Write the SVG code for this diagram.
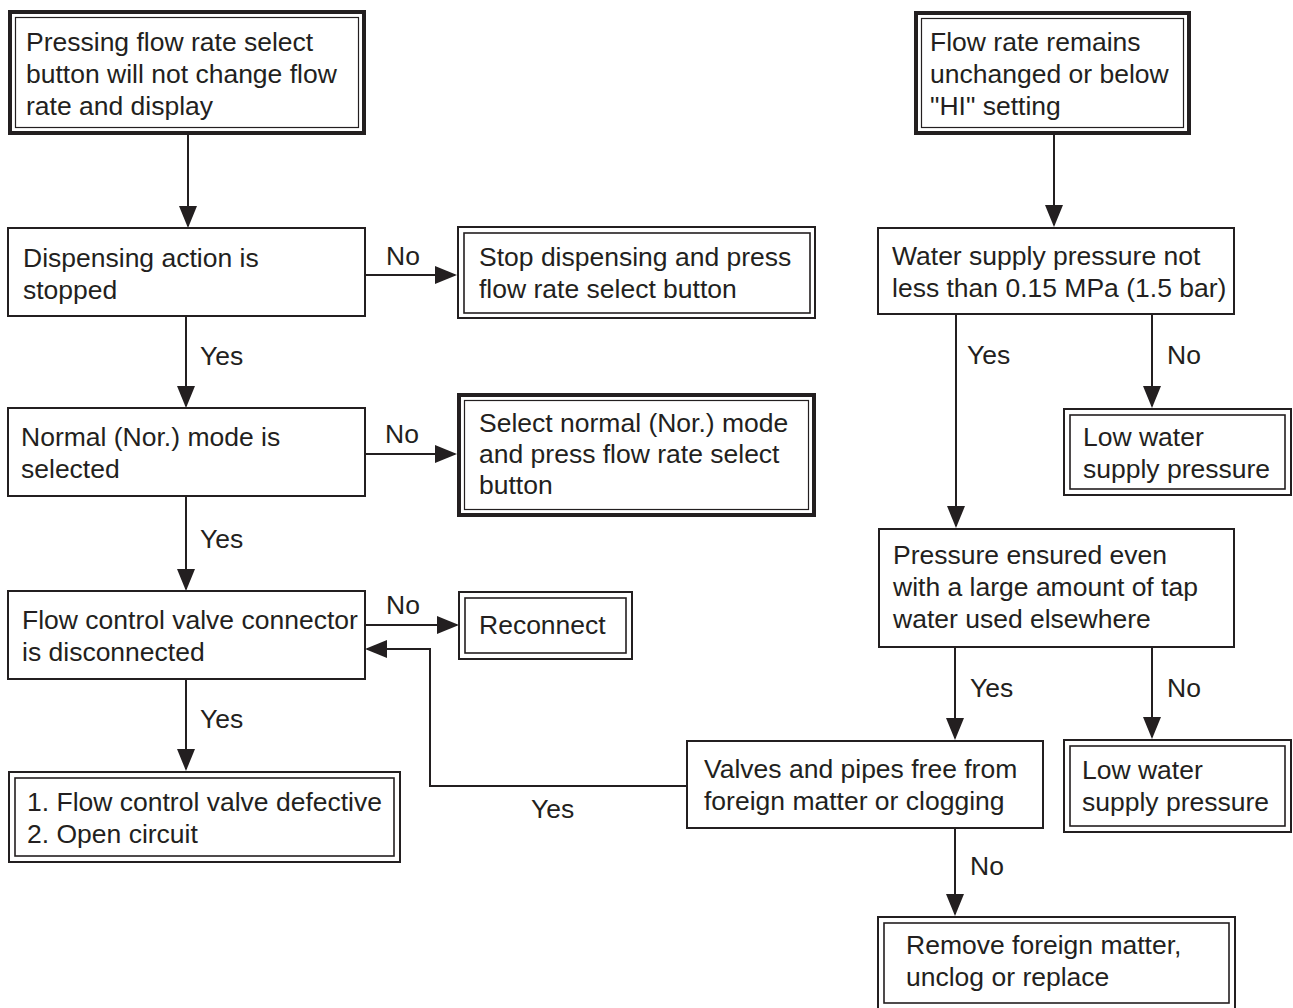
<svg xmlns="http://www.w3.org/2000/svg" width="1293" height="1008" viewBox="0 0 1293 1008">
<style>
text{font-family:"Liberation Sans",Arial,sans-serif;font-size:26.5px;fill:#231f20}
.box{fill:#fff;stroke:#231f20;stroke-width:2}
.thick{fill:#fff;stroke:#231f20;stroke-width:4}
.inner{fill:none;stroke:#231f20;stroke-width:1.2}
.inner2{fill:none;stroke:#231f20;stroke-width:1.6}
.conn{fill:none;stroke:#231f20;stroke-width:2}
</style>
<defs>
<marker id="ah" markerUnits="userSpaceOnUse" markerWidth="22" markerHeight="18" refX="20" refY="9" orient="auto">
<path d="M0,0 L22,9 L0,18 Z" fill="#231f20"/>
</marker>
</defs>
<rect width="1293" height="1008" fill="#fff"/>

<g id="connectors">
<line class="conn" x1="188" y1="135" x2="188" y2="226" marker-end="url(#ah)"/>
<line class="conn" x1="366" y1="275" x2="455" y2="275" marker-end="url(#ah)"/>
<line class="conn" x1="186" y1="316" x2="186" y2="406" marker-end="url(#ah)"/>
<line class="conn" x1="365" y1="454" x2="455" y2="454" marker-end="url(#ah)"/>
<line class="conn" x1="186" y1="496" x2="186" y2="589" marker-end="url(#ah)"/>
<line class="conn" x1="365" y1="625" x2="457" y2="625" marker-end="url(#ah)"/>
<line class="conn" x1="186" y1="679" x2="186" y2="769" marker-end="url(#ah)"/>
<polyline class="conn" points="686,786 430,786 430,649 367,649" marker-end="url(#ah)"/>
<line class="conn" x1="1054" y1="135" x2="1054" y2="225" marker-end="url(#ah)"/>
<line class="conn" x1="956" y1="314" x2="956" y2="526" marker-end="url(#ah)"/>
<line class="conn" x1="1152" y1="314" x2="1152" y2="406" marker-end="url(#ah)"/>
<line class="conn" x1="955" y1="647" x2="955" y2="738" marker-end="url(#ah)"/>
<line class="conn" x1="1152" y1="647" x2="1152" y2="737" marker-end="url(#ah)"/>
<line class="conn" x1="955" y1="828" x2="955" y2="914" marker-end="url(#ah)"/>
<text x="386" y="265">No</text>
<text x="200" y="365">Yes</text>
<text x="385" y="443">No</text>
<text x="200" y="548">Yes</text>
<text x="386" y="614">No</text>
<text x="200" y="728">Yes</text>
<text x="531" y="818">Yes</text>
<text x="967" y="364">Yes</text>
<text x="1167" y="364">No</text>
<text x="970" y="697">Yes</text>
<text x="1167" y="697">No</text>
<text x="970" y="875">No</text>
</g>

<g id="start1">
<rect class="thick" x="10" y="12" width="354" height="121"/>
<rect class="inner" x="15.5" y="17.5" width="343" height="110"/>
<text x="26" y="51">Pressing flow rate select</text>
<text x="26" y="83">button will not change flow</text>
<text x="26" y="115">rate and display</text>
</g>

<g id="dispensing">
<rect class="box" x="8" y="228" width="357" height="88"/>
<text x="23" y="267">Dispensing action is</text>
<text x="23" y="299">stopped</text>
</g>

<g id="stop-dispensing">
<rect class="box" x="458" y="227" width="357" height="91"/>
<rect class="inner2" x="464" y="233" width="346" height="80"/>
<text x="479" y="266">Stop dispensing and press</text>
<text x="479" y="298">flow rate select button</text>
</g>

<g id="normal-mode">
<rect class="box" x="8" y="408" width="357" height="88"/>
<text x="21" y="446">Normal (Nor.) mode is</text>
<text x="21" y="478">selected</text>
</g>

<g id="select-normal">
<rect class="thick" x="459" y="395" width="355" height="120"/>
<rect class="inner" x="464.5" y="400.5" width="344" height="109"/>
<text x="479" y="432">Select normal (Nor.) mode</text>
<text x="479" y="463">and press flow rate select</text>
<text x="479" y="494">button</text>
</g>

<g id="connector-check">
<rect class="box" x="8" y="591" width="357" height="88"/>
<text x="22" y="629">Flow control valve connector</text>
<text x="22" y="661">is disconnected</text>
</g>

<g id="reconnect">
<rect class="box" x="459" y="592" width="173" height="67"/>
<rect class="inner2" x="465" y="598" width="161" height="55"/>
<text x="479" y="634">Reconnect</text>
</g>

<g id="valve-defective">
<rect class="box" x="9" y="772" width="391" height="90"/>
<rect class="inner2" x="15" y="778" width="379" height="78"/>
<text x="27" y="811">1. Flow control valve defective</text>
<text x="27" y="843">2. Open circuit</text>
</g>

<g id="start2">
<rect class="thick" x="916" y="13" width="273" height="120"/>
<rect class="inner" x="921.5" y="18.5" width="262" height="109"/>
<text x="930" y="51">Flow rate remains</text>
<text x="930" y="83">unchanged or below</text>
<text x="930" y="115">"HI" setting</text>
</g>

<g id="water-supply">
<rect class="box" x="878" y="228" width="356" height="86"/>
<text x="892" y="265">Water supply pressure not</text>
<text x="892" y="297">less than 0.15 MPa (1.5 bar)</text>
</g>

<g id="low-pressure-1">
<rect class="box" x="1064" y="409" width="227" height="86"/>
<rect class="inner2" x="1070" y="415" width="215" height="74"/>
<text x="1083" y="446">Low water</text>
<text x="1083" y="478">supply pressure</text>
</g>

<g id="pressure-ensured">
<rect class="box" x="879" y="529" width="355" height="118"/>
<text x="893" y="564">Pressure ensured even</text>
<text x="893" y="596">with a large amount of tap</text>
<text x="893" y="628">water used elsewhere</text>
</g>

<g id="valves-pipes">
<rect class="box" x="687" y="741" width="356" height="87"/>
<text x="704" y="778">Valves and pipes free from</text>
<text x="704" y="810">foreign matter or clogging</text>
</g>

<g id="low-pressure-2">
<rect class="box" x="1064" y="740" width="227" height="92"/>
<rect class="inner2" x="1070" y="746" width="215" height="80"/>
<text x="1082" y="779">Low water</text>
<text x="1082" y="811">supply pressure</text>
</g>

<g id="remove-matter">
<rect class="box" x="878" y="917" width="357" height="95"/>
<rect class="inner2" x="884" y="923" width="345" height="80"/>
<text x="906" y="954">Remove foreign matter,</text>
<text x="906" y="986">unclog or replace</text>
</g>
</svg>
